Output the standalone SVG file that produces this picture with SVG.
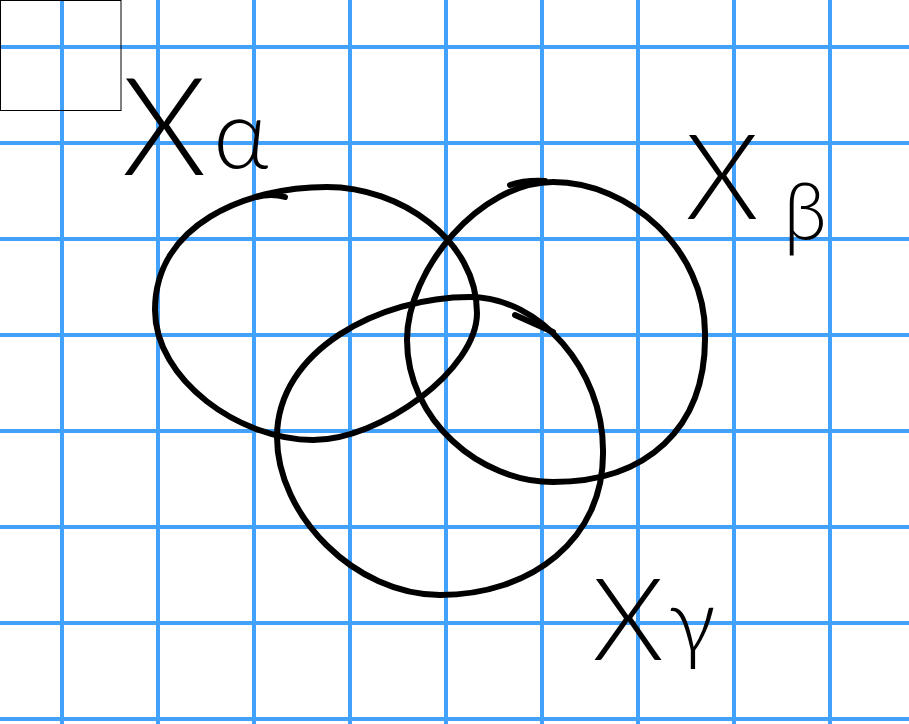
<svg xmlns="http://www.w3.org/2000/svg" width="909" height="724" viewBox="0 0 909 724">
<style>
.grid line{stroke:#42a1fb;stroke-width:4}
.ink{fill:none;stroke:#000;stroke-width:6;stroke-linecap:round;stroke-linejoin:round}
.lbl{font-family:Lato,"Open Sans","DejaVu Sans",sans-serif;font-weight:300;fill:#000;text-anchor:middle}
</style>
<rect width="909" height="724" fill="#fff"/>
<g class="grid">
<line x1="62" y1="0" x2="62" y2="724"/>
<line x1="158" y1="0" x2="158" y2="724"/>
<line x1="254" y1="0" x2="254" y2="724"/>
<line x1="350" y1="0" x2="350" y2="724"/>
<line x1="446" y1="0" x2="446" y2="724"/>
<line x1="542" y1="0" x2="542" y2="724"/>
<line x1="638" y1="0" x2="638" y2="724"/>
<line x1="734" y1="0" x2="734" y2="724"/>
<line x1="830" y1="0" x2="830" y2="724"/>
<line x1="0" y1="47" x2="909" y2="47"/>
<line x1="0" y1="143" x2="909" y2="143"/>
<line x1="0" y1="239" x2="909" y2="239"/>
<line x1="0" y1="335" x2="909" y2="335"/>
<line x1="0" y1="431" x2="909" y2="431"/>
<line x1="0" y1="527" x2="909" y2="527"/>
<line x1="0" y1="623" x2="909" y2="623"/>
<line x1="0" y1="719" x2="909" y2="719"/>
</g>
<rect x="0.5" y="0.5" width="120.5" height="110" fill="none" stroke="#000" stroke-width="1"/>
<g id="set-alpha">
<path class="ink" d="M327,187 C400,187 477,240 477,313 C477,370 380,440 313,440 C240,440 155,380 155,310 C155,225 245,187 327,187"/>
<path class="ink" d="M256,197 Q272,193 285,197" stroke-width="7"/>
</g>
<g id="set-beta">
<path class="ink" d="M553,182 C630,182 705,250 705,333 C707,430 645,482 553,482 C480,482 407,420 407,340 C407,270 480,182 553,182"/>
<path class="ink" d="M510,185 Q525,180 545,181" stroke-width="7"/>
</g>
<g id="set-gamma">
<path class="ink" d="M470,297 C540,297 603,370 603,450 C605,540 530,595 440,595 C355,595 277,515 277,437 C277,350 380,297 470,297"/>
<path class="ink" d="M515,315 L553,332" stroke-width="7"/>
</g>
<g id="label-alpha">
<text class="lbl" x="164" y="175" font-size="136">X</text>
<text class="lbl" x="241" y="168" font-size="96">α</text>
</g>
<g id="label-beta">
<text class="lbl" x="722" y="219" font-size="118">X</text>
<text class="lbl" x="805" y="240" font-size="80">β</text>
</g>
<g id="label-gamma">
<text class="lbl" x="628" y="660" font-size="115">X</text>
<text class="lbl" x="692" y="653" font-size="90">γ</text>
</g>
</svg>
